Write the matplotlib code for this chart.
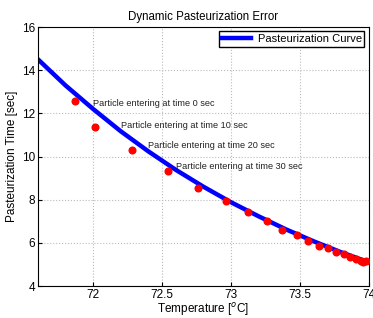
import matplotlib
matplotlib.use('Agg')
import matplotlib.pyplot as plt

plt.rcParams['font.family'] = ['Liberation Sans', 'DejaVu Sans']

# curve
curve_temp = [71.6, 71.8, 72.0, 72.2, 72.4, 72.6, 72.8, 73.0, 73.2, 73.4, 73.6, 73.8, 74.0]
curve_time = [14.5, 13.29, 12.2, 11.17, 10.24, 9.38, 8.6, 7.88, 7.23, 6.62, 6.07, 5.56, 5.1]

# particles
part_temp = [71.87, 72.01, 72.28, 72.54, 72.76, 72.96, 73.12, 73.26, 73.37, 73.48,
             73.56, 73.64, 73.70, 73.76, 73.82, 73.86, 73.91, 73.94, 73.96, 73.98]
part_time = [12.55, 11.39, 10.31, 9.34, 8.55, 7.92, 7.44, 6.99, 6.6, 6.38,
             6.07, 5.87, 5.76, 5.56, 5.47, 5.36, 5.25, 5.16, 5.13, 5.15]

labels = ['Particle entering at time 0 sec', 'Particle entering at time 10 sec',
          'Particle entering at time 20 sec', 'Particle entering at time 30 sec']
label_x = [72.0, 72.2, 72.4, 72.6]
label_y = [12.45, 11.45, 10.5, 9.52]

fig = plt.figure(figsize=(3.73, 3.18), dpi=100)
ax = fig.add_axes([0.102, 0.1006, 0.887, 0.8144])

ax.plot(curve_temp, curve_time, color='#0000ff', lw=3.2, label='Pasteurization Curve', zorder=2)
ax.plot(part_temp, part_time, 'o', color='#ff0000', ms=4.8, mec='#ff0000', zorder=3)

for t, x, y in zip(labels, label_x, label_y):
    ax.text(x, y, t, fontsize=6.6, color='#222222', va='center', ha='left')

ax.set_xlim(71.6, 74)
ax.set_ylim(4, 16)
ax.set_xticks([72, 72.5, 73, 73.5, 74])
ax.set_xticklabels(['72', '72.5', '73', '73.5', '74'])
ax.set_yticks([4, 6, 8, 10, 12, 14, 16])
ax.tick_params(labelsize=8.5, direction='in', length=3, pad=2)
ax.grid(True, linestyle=':', color='#bbbbbb', lw=0.8)

ax.set_title('Dynamic Pasteurization Error', fontsize=8.3, pad=5)
ax.set_xlabel('Temperature [$^{o}$C]', fontsize=8.5, labelpad=0)
ax.set_ylabel('Pasteurization Time [sec]', fontsize=8.5, labelpad=3)

ax.legend(loc='upper right', fontsize=8, fancybox=False, edgecolor='black',
          handlelength=2.6, borderaxespad=0.4, borderpad=0.25, handletextpad=0.6,
          framealpha=1)

fig.savefig('out.png', dpi=100)
